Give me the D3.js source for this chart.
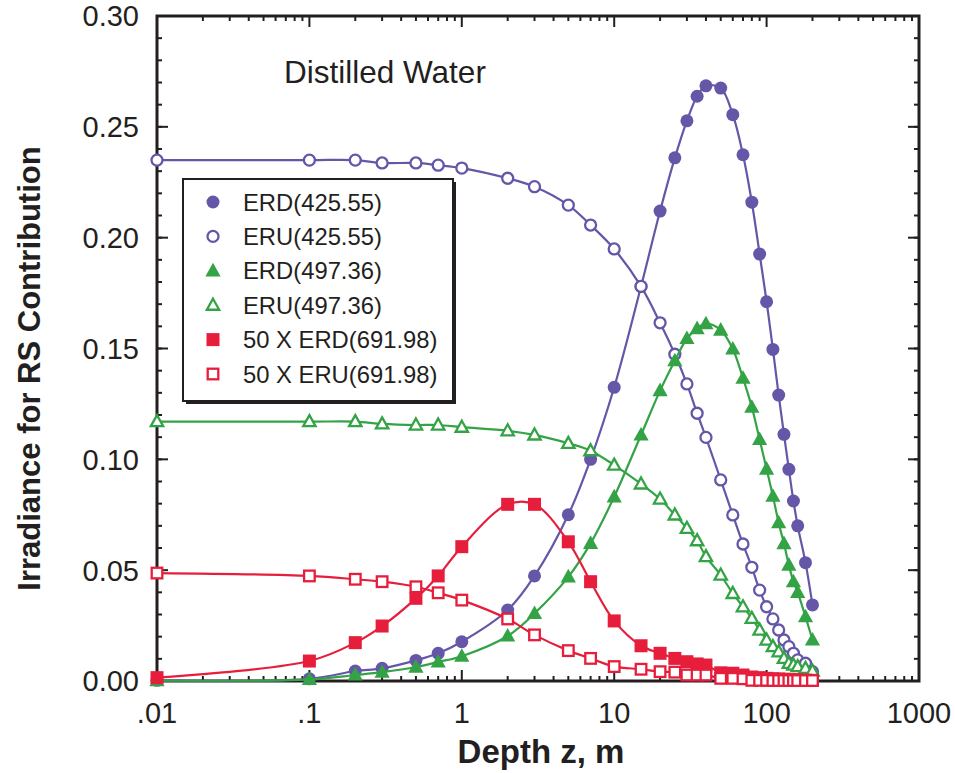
<!DOCTYPE html>
<html>
<head><meta charset="utf-8">
<title>Distilled Water RS contribution</title>
<style>
body { margin:0; background:#fff; }
svg text { font-family: "Liberation Sans", Arial, Helvetica, sans-serif; }
</style>
</head>
<body>
<svg width="955" height="773"></svg>
<script src="https://d3js.org/d3.v7.min.js"></script>
<script>
// depths (m) where the model was sampled
var depths = [0.01,0.1,0.2,0.3,0.5,0.7,1,2,3,5,7,10,15,20,25,30,35,40,50,60,70,80,90,100,110,120,130,140,150,160,180,200];

var erd425 = [0.0003,0.001,0.0045,0.0057,0.0093,0.0125,0.0177,0.032,0.0474,0.075,0.100,0.1325,0.178,0.212,0.236,0.2527,0.2638,0.2685,0.2675,0.2555,0.2374,0.216,0.1926,0.1711,0.1496,0.129,0.1113,0.0955,0.0812,0.070,0.0534,0.0343];
var eru425 = [0.235,0.235,0.235,0.2337,0.2337,0.2327,0.2314,0.2268,0.223,0.2147,0.2057,0.1949,0.178,0.1616,0.1474,0.134,0.1208,0.1099,0.0907,0.0749,0.0618,0.0513,0.041,0.0335,0.028,0.023,0.0185,0.0155,0.0125,0.0095,0.008,0.0042];
var erd497 = [0.0002,0.0007,0.0027,0.004,0.0063,0.0086,0.0112,0.0203,0.0305,0.047,0.0621,0.0831,0.111,0.131,0.1445,0.1545,0.159,0.1612,0.1583,0.1498,0.1366,0.1235,0.109,0.0956,0.0834,0.0714,0.062,0.0523,0.0448,0.040,0.029,0.0185];
var eru497 = [0.117,0.117,0.117,0.116,0.1155,0.1155,0.1145,0.1129,0.111,0.1072,0.1039,0.0974,0.0889,0.0821,0.0749,0.0689,0.0633,0.0561,0.0478,0.0395,0.0335,0.0283,0.023,0.0185,0.0155,0.0132,0.0102,0.008,0.0072,0.0065,0.0057,0.0045];
var erd692x50 = [0.0015,0.009,0.0173,0.0248,0.0373,0.0474,0.0606,0.0797,0.0797,0.0628,0.0448,0.0271,0.0159,0.0125,0.0102,0.0087,0.0077,0.0072,0.0037,0.0035,0.0027,0.0018,0.0015,0.0012,0.001,0.0009,0.0008,0.0007,0.0006,0.0005,0.0004,0.0003];
var eru692x50 = [0.0487,0.0474,0.0459,0.0448,0.0425,0.0398,0.0365,0.028,0.0208,0.0137,0.0102,0.0065,0.0053,0.0042,0.004,0.0027,0.0027,0.0027,0.0012,0.0012,0.001,0.0003,0.0003,0.0003,0.0002,0.0002,0.0002,0.0002,0.0002,0.0002,0.0002,0.0002];

var seriesNames = ["ERD(425.55)","ERU(425.55)","ERD(497.36)","ERU(497.36)","50 X ERD(691.98)","50 X ERU(691.98)"];
var xTicks = [0.01,0.1,1,10,100,1000];
var xTickLabels = [".01",".1","1","10","100","1000"];
var yTicks = [0,0.05,0.10,0.15,0.20,0.25,0.30];

var purple = "#6556a8", green = "#33a346", red = "#e61e3c";

var series = [
  {name: seriesNames[0], vals: erd425, color: purple, shape: "circle", filled: true},
  {name: seriesNames[1], vals: eru425, color: purple, shape: "circle", filled: false},
  {name: seriesNames[2], vals: erd497, color: green, shape: "triangle", filled: true},
  {name: seriesNames[3], vals: eru497, color: green, shape: "triangle", filled: false},
  {name: seriesNames[4], vals: erd692x50, color: red, shape: "square", filled: true},
  {name: seriesNames[5], vals: eru692x50, color: red, shape: "square", filled: false}
];

var svg = d3.select("svg");
var pL = 157, pR = 919, pT = 16, pB = 681;

var x = d3.scaleLog().domain([0.01, 1000]).range([pL, pR]);
var y = d3.scaleLinear().domain([0, 0.30]).range([pB, pT]);

// minor ticks
var xMinor = [];
[0.01,0.1,1,10,100].forEach(function(d) {
  for (var k = 2; k <= 9; k++) xMinor.push(d * k);
});
var yMinor = d3.range(0, 31).map(function(i) { return i / 100; });

var ax = svg.append("g").attr("stroke", "#231f20").attr("stroke-width", 2);
function ticksX(data, y0, len) {
  ax.append("g").selectAll("line").data(data).enter().append("line")
    .attr("x1", function(d) { return x(d); }).attr("x2", function(d) { return x(d); })
    .attr("y1", y0).attr("y2", y0 + len);
}
function ticksY(data, x0, len) {
  ax.append("g").selectAll("line").data(data).enter().append("line")
    .attr("y1", function(d) { return y(d); }).attr("y2", function(d) { return y(d); })
    .attr("x1", x0).attr("x2", x0 + len);
}
ticksX(xMinor, pB, -5); ticksX(xMinor, pT, 5);
ticksX(xTicks, pB, -11); ticksX(xTicks, pT, 11);
ticksY(yMinor, pL, 5); ticksY(yMinor, pR, -5);
ticksY(yTicks, pL, 11); ticksY(yTicks, pR, -11);

svg.append("rect")
  .attr("x", pL).attr("y", pT).attr("width", pR - pL).attr("height", pB - pT)
  .attr("fill", "none").attr("stroke", "#231f20").attr("stroke-width", 3);

// tick labels
svg.append("g").selectAll("text").data(yTicks).enter().append("text")
  .attr("x", 139).attr("y", function(d) { return y(d); })
  .attr("dy", "0.36em").attr("text-anchor", "end")
  .attr("font-size", 29).attr("fill", "#231f20")
  .text(function(d) { return d3.format(".2f")(d); });
svg.append("g").selectAll("text").data(xTicks).enter().append("text")
  .attr("x", function(d) { return x(d); }).attr("y", 723)
  .attr("text-anchor", "middle").attr("font-size", 29).attr("fill", "#231f20")
  .text(function(d, i) { return xTickLabels[i]; });

svg.append("text").attr("x", (pL + pR) / 2 + 3).attr("y", 763)
  .attr("text-anchor", "middle").attr("font-size", 33).attr("font-weight", "bold")
  .attr("fill", "#231f20").text("Depth z, m");
svg.append("text").attr("transform", "translate(40," + ((pT + pB) / 2 + 20) + ") rotate(-90)")
  .attr("text-anchor", "middle").attr("font-size", 31).attr("font-weight", "bold")
  .attr("fill", "#231f20").text("Irradiance for RS Contribution");

svg.append("text").attr("x", 284).attr("y", 83).attr("font-size", 31.5)
  .attr("fill", "#231f20").text("Distilled Water");

// curves
var line = d3.line()
  .x(function(d) { return x(d[0]); })
  .y(function(d) { return y(d[1]); })
  .curve(d3.curveCatmullRom.alpha(0.5));

function drawMarker(g, shape, filled, color) {
  var fill = filled ? color : "#fff";
  if (shape == "circle") {
    g.append("circle").attr("r", filled ? 6.5 : 5.5)
      .attr("fill", fill).attr("stroke", color).attr("stroke-width", filled ? 0 : 2.3);
  } else if (shape == "triangle") {
    var s = filled ? 8 : 6.5;
    g.append("path").attr("d", "M0," + (-s) + "L" + (s * 0.95) + "," + (s * 0.7) + "L" + (-s * 0.95) + "," + (s * 0.7) + "Z")
      .attr("fill", fill).attr("stroke", color).attr("stroke-width", filled ? 0 : 2.3);
  } else {
    var h = filled ? 6.5 : 5.3;
    g.append("rect").attr("x", -h).attr("y", -h).attr("width", 2 * h).attr("height", 2 * h)
      .attr("fill", fill).attr("stroke", color).attr("stroke-width", filled ? 0 : 2.3);
  }
}

series.forEach(function(s) {
  var pts = depths.map(function(z, i) { return [z, s.vals[i]]; });
  svg.append("path").datum(pts).attr("d", line)
    .attr("fill", "none").attr("stroke", s.color).attr("stroke-width", 2.2);
  var gm = svg.append("g");
  pts.forEach(function(p) {
    var g = gm.append("g").attr("transform", "translate(" + x(p[0]) + "," + y(p[1]) + ")");
    drawMarker(g, s.shape, s.filled, s.color);
  });
});

// legend
var lg = svg.append("g");
lg.append("rect").attr("x", 186).attr("y", 182).attr("width", 270).attr("height", 222).attr("fill", "#231f20");
lg.append("rect").attr("x", 183).attr("y", 179).attr("width", 270).attr("height", 222)
  .attr("fill", "#fff").attr("stroke", "#231f20").attr("stroke-width", 2);
series.forEach(function(s, i) {
  var yy = 202 + i * 34.4;
  var g = lg.append("g").attr("transform", "translate(213," + yy + ")");
  drawMarker(g, s.shape, s.filled, s.color);
  lg.append("text").attr("x", 243).attr("y", yy).attr("dy", "0.36em")
    .attr("font-size", 23.8).attr("fill", "#231f20").text(s.name);
});
</script>
</body>
</html>
